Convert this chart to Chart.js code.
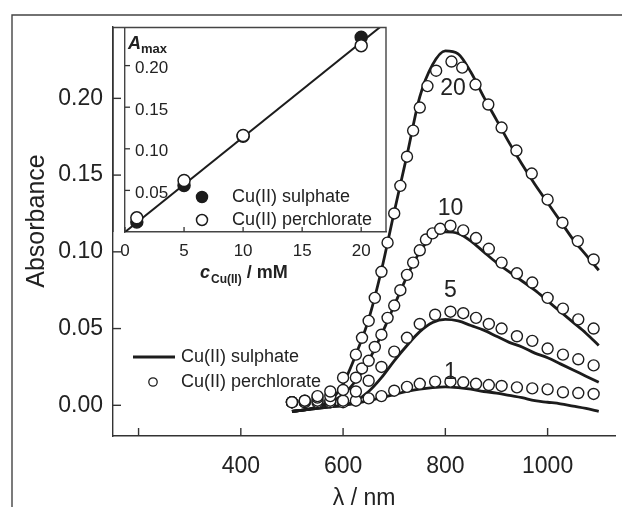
<!DOCTYPE html>
<html>
<head>
<meta charset="utf-8">
<script src="https://cdn.jsdelivr.net/npm/chart.js@4.4.1/dist/chart.umd.min.js"></script>
<style>
  html, body { margin: 0; padding: 0; background: #fff; }
  #wrap { position: relative; width: 622px; height: 507px; overflow: hidden; }
  #insetChart { position: absolute; left: 100px; top: 20px; }
  #mainChart { position: absolute; left: 0; top: 0; pointer-events: none; }
</style>
</head>
<body>
<div id="wrap">
  <canvas id="insetChart" width="300" height="280"></canvas>
  <canvas id="mainChart" width="622" height="507"></canvas>
</div>
<script>
const ink = "#1c1c1c";
const axisInk = "#333";
Chart.defaults.font.family = "'Liberation Sans', Arial, Helvetica, sans-serif";
Chart.defaults.color = "#222";

// Cu(II) sulphate spectra (solid lines), nm
const lambdaLine = [500, 525, 550, 575, 600, 625, 650, 675, 700, 725, 750, 775, 800,
                    825, 850, 875, 900, 925, 950, 975, 1000, 1025, 1050, 1075, 1100];
const sulphate1  = [-0.004, -0.003, -0.002, -0.001, 0.000, 0.0013, 0.003, 0.005, 0.007, 0.009, 0.0105, 0.0115, 0.012,
                    0.0115, 0.0105, 0.009, 0.008, 0.0065, 0.005, 0.003, 0.002, 0.001, -0.0005, -0.002, -0.004];
const sulphate5  = [-0.004, -0.003, -0.002, -0.001, 0.000, 0.003, 0.009, 0.018, 0.029, 0.039, 0.048, 0.054, 0.056,
                    0.055, 0.052, 0.049, 0.045, 0.041, 0.038, 0.034, 0.031, 0.027, 0.023, 0.019, 0.015];
const sulphate10 = [-0.004, -0.003, -0.001, 0.002, 0.007, 0.016, 0.029, 0.046, 0.065, 0.084, 0.100, 0.110, 0.113,
                    0.112, 0.107, 0.100, 0.093, 0.087, 0.081, 0.075, 0.068, 0.061, 0.054, 0.047, 0.039];
const sulphate20 = [-0.004, -0.003, -0.001, 0.003, 0.014, 0.033, 0.056, 0.088, 0.126, 0.163, 0.201, 0.222, 0.231,
                    0.229, 0.217, 0.201, 0.186, 0.171, 0.157, 0.144, 0.132, 0.120, 0.108, 0.098, 0.088];

// Cu(II) perchlorate spectra (open circles)
const lambdaP1 = [500, 525, 550, 575, 600, 625, 650, 675, 700, 725, 750, 780, 810, 835, 860, 885,
                  910, 940, 970, 1000, 1030, 1060, 1090];
const perchlorate1 = [0.002, 0.002, 0.002, 0.002, 0.002, 0.003, 0.0045, 0.006, 0.0095, 0.012, 0.014, 0.0154, 0.0154,
                      0.015, 0.014, 0.0132, 0.0126, 0.0117, 0.011, 0.0104, 0.0085, 0.008, 0.0074];
const lambdaP5 = [500, 525, 550, 575, 600, 625, 650, 675, 700, 725, 750, 780, 810, 835, 860, 885,
                  910, 940, 970, 1000, 1030, 1060, 1090];
const perchlorate5 = [0.002, 0.002, 0.003, 0.003, 0.003, 0.009, 0.016, 0.025, 0.035, 0.044, 0.053, 0.059, 0.061,
                      0.060, 0.057, 0.053, 0.050, 0.045, 0.042, 0.037, 0.033, 0.030, 0.026];
const lambdaP10 = [500, 525, 550, 575, 600, 625, 637, 650, 662, 675, 687, 700, 712, 725, 737, 750, 762, 775, 790,
                   810, 835, 860, 885, 910, 940, 970, 1000, 1030, 1060, 1090];
const perchlorate10 = [0.002, 0.003, 0.005, 0.006, 0.010, 0.018, 0.024, 0.029, 0.038, 0.046, 0.057, 0.065, 0.075,
                       0.085, 0.093, 0.101, 0.108, 0.112, 0.115, 0.117, 0.114, 0.109, 0.102, 0.093, 0.086, 0.080,
                       0.070, 0.063, 0.056, 0.050];
const lambdaP20 = [500, 525, 550, 575, 600, 625, 637, 650, 662, 675, 687, 700, 712, 725, 737, 750, 765, 782,
                   812, 833, 859, 884, 910, 939, 969, 1000, 1029, 1059, 1090];
const perchlorate20 = [0.002, 0.003, 0.006, 0.009, 0.018, 0.033, 0.044, 0.055, 0.070, 0.087, 0.106, 0.125, 0.143,
                       0.162, 0.179, 0.194, 0.208, 0.218, 0.224, 0.220, 0.209, 0.196, 0.181, 0.166, 0.151, 0.134,
                       0.119, 0.107, 0.095];

// concentration labels next to the curves (mM)
const curveNames = ["20", "10", "5", "1"];
const curveLabelX = [815, 810, 810, 810];
const curveLabelY = [0.206, 0.128, 0.075, 0.021];

const xTicks = [200, 400, 600, 800, 1000];
const yTicks = [0, 0.05, 0.10, 0.15, 0.20];

// inset: A_max vs concentration
const cInset = [1, 5, 10, 20];
const amaxSulphate = [0.012, 0.056, 0.115, 0.234];
const amaxPerchlorate = [0.017, 0.062, 0.116, 0.224];
const fitC = [0, 22.1];
const fitA = [0, 0.252];
const insetXTicks = [0, 5, 10, 15, 20];
const insetYTicks = [0.05, 0.10, 0.15, 0.20];

const pts = (xs, ys) => xs.map((x, i) => ({ x, y: ys[i] }));

function lineSet(label, ys) {
  return {
    type: "line", label, data: pts(lambdaLine, ys),
    borderColor: ink, borderWidth: 2.8, pointRadius: 0,
    cubicInterpolationMode: "monotone", fill: false, order: 2
  };
}
function circleSet(label, xs, ys) {
  return {
    label, data: pts(xs, ys), showLine: false,
    pointRadius: 5.5, pointBorderWidth: 1.4,
    pointBorderColor: ink, pointBackgroundColor: "#fff", order: 1
  };
}

// the scale's own padding guesses are not wanted: the plot box is fixed
function noPad(s) {
  s.paddingTop = 0; s.paddingBottom = 0; s.paddingLeft = 0; s.paddingRight = 0;
}

// ticks drawn inside the plot area
const inwardTicks = {
  id: "inwardTicks",
  afterDraw(chart, args, opts) {
    const { ctx, chartArea, scales } = chart;
    ctx.save();
    ctx.strokeStyle = axisInk;
    ctx.lineWidth = opts.width;
    scales.x.ticks.forEach(t => {
      const px = scales.x.getPixelForValue(t.value);
      ctx.beginPath();
      ctx.moveTo(px, chartArea.bottom);
      ctx.lineTo(px, chartArea.bottom - opts.len);
      ctx.stroke();
    });
    scales.y.ticks.forEach(t => {
      const py = scales.y.getPixelForValue(t.value);
      ctx.beginPath();
      ctx.moveTo(chartArea.left, py);
      ctx.lineTo(chartArea.left + opts.len, py);
      ctx.stroke();
    });
    ctx.restore();
  }
};

const mainDecor = {
  id: "mainDecor",
  afterDraw(chart) {
    const { ctx, scales } = chart;
    ctx.save();
    // outer frame
    ctx.strokeStyle = "#444";
    ctx.lineWidth = 1.4;
    ctx.beginPath();
    ctx.moveTo(12, 507);
    ctx.lineTo(12, 15);
    ctx.lineTo(622, 15);
    ctx.stroke();

    // y title
    ctx.fillStyle = "#222";
    ctx.font = "25px 'Liberation Sans', Arial, sans-serif";
    ctx.textAlign = "center";
    ctx.textBaseline = "middle";
    ctx.translate(37, 221);
    ctx.rotate(-Math.PI / 2);
    ctx.fillText("Absorbance", 0, 0);
    ctx.setTransform(1, 0, 0, 1, 0, 0);

    // concentration labels
    ctx.font = "23px 'Liberation Sans', Arial, sans-serif";
    curveNames.forEach((name, i) => {
      ctx.fillText(name, scales.x.getPixelForValue(curveLabelX[i]), scales.y.getPixelForValue(curveLabelY[i]));
    });

    // legend
    ctx.font = "18px 'Liberation Sans', Arial, sans-serif";
    ctx.textAlign = "left";
    ctx.strokeStyle = ink;
    ctx.lineWidth = 2.8;
    ctx.beginPath();
    ctx.moveTo(133, 357);
    ctx.lineTo(175, 357);
    ctx.stroke();
    ctx.fillText("Cu(II) sulphate", 181, 357);
    ctx.lineWidth = 1.3;
    ctx.fillStyle = "#fff";
    ctx.beginPath();
    ctx.arc(153, 382, 4.2, 0, Math.PI * 2);
    ctx.fill();
    ctx.stroke();
    ctx.fillStyle = "#222";
    ctx.fillText("Cu(II) perchlorate", 181, 382);
    ctx.restore();
  }
};

// inset, drawn first so the main axis ticks sit on top of it
const insetDecor = {
  id: "insetDecor",
  beforeDraw(chart) {
    const { ctx, chartArea } = chart;
    ctx.save();
    ctx.fillStyle = "#fff";
    ctx.fillRect(13, chartArea.top, chartArea.right - 13, chartArea.bottom - chartArea.top);
    ctx.restore();
  },
  afterDraw(chart) {
    const { ctx, chartArea } = chart;
    ctx.save();
    ctx.strokeStyle = "#444";
    ctx.lineWidth = 1.4;
    ctx.beginPath();
    ctx.moveTo(13, chartArea.bottom);
    ctx.lineTo(13, chartArea.top);
    ctx.lineTo(chartArea.right, chartArea.top);
    ctx.lineTo(chartArea.right, chartArea.bottom);
    ctx.stroke();

    ctx.fillStyle = "#222";
    ctx.textBaseline = "alphabetic";
    ctx.textAlign = "left";
    // A_max
    ctx.font = "italic bold 18px 'Liberation Sans', Arial, sans-serif";
    ctx.fillText("A", 28, 29);
    ctx.font = "bold 13px 'Liberation Sans', Arial, sans-serif";
    ctx.fillText("max", 41, 33);

    // x title: c_Cu(II) / mM
    let x = 100;
    const y = 258;
    ctx.font = "italic bold 18px 'Liberation Sans', Arial, sans-serif";
    ctx.fillText("c", x, y);
    x += ctx.measureText("c").width + 1;
    ctx.font = "bold 12px 'Liberation Sans', Arial, sans-serif";
    ctx.fillText("Cu(II)", x, y + 5);
    x += ctx.measureText("Cu(II)").width;
    ctx.font = "bold 18px 'Liberation Sans', Arial, sans-serif";
    ctx.fillText(" / mM", x, y);

    // legend
    ctx.font = "18px 'Liberation Sans', Arial, sans-serif";
    ctx.textBaseline = "middle";
    ctx.strokeStyle = ink;
    ctx.lineWidth = 1.5;
    ctx.fillStyle = ink;
    ctx.beginPath();
    ctx.arc(102, 177, 5.5, 0, Math.PI * 2);
    ctx.fill();
    ctx.stroke();
    ctx.fillStyle = "#fff";
    ctx.beginPath();
    ctx.arc(102, 200, 5.5, 0, Math.PI * 2);
    ctx.fill();
    ctx.stroke();
    ctx.fillStyle = "#222";
    ctx.fillText("Cu(II) sulphate", 132, 177);
    ctx.fillText("Cu(II) perchlorate", 132, 200);
    ctx.restore();
  }
};

new Chart(document.getElementById("insetChart"), {
  type: "scatter",
  data: {
    datasets: [
      {
        label: "Cu(II) perchlorate", data: pts(cInset, amaxPerchlorate),
        pointRadius: 6, pointBorderWidth: 1.5, pointBorderColor: ink, pointBackgroundColor: "#fff", order: 1
      },
      {
        label: "Cu(II) sulphate", data: pts(cInset, amaxSulphate),
        pointRadius: 6, pointBorderWidth: 1.5, pointBorderColor: ink, pointBackgroundColor: ink, order: 2
      },
      {
        type: "line", label: "fit", data: pts(fitC, fitA),
        borderColor: ink, borderWidth: 2, pointRadius: 0, fill: false, order: 3
      }
    ]
  },
  options: {
    responsive: false,
    animation: false,
    layout: { padding: { left: 13, right: 14, top: 7, bottom: 0 } },
    plugins: {
      legend: { display: false },
      tooltip: { enabled: false },
      inwardTicks: { len: 5, width: 1.3 }
    },
    scales: {
      x: {
        type: "linear", min: 0, max: 22.1,
        afterBuildTicks: s => { s.ticks = insetXTicks.map(v => ({ value: v })); },
        afterFit: s => { s.height = 68; noPad(s); },
        grid: { display: false, drawTicks: false },
        border: { display: true, color: "#444", width: 1.4 },
        ticks: { font: { size: 17 }, padding: 9, maxRotation: 0, autoSkip: false }
      },
      y: {
        min: 0, max: 0.2458,
        afterBuildTicks: s => { s.ticks = insetYTicks.map(v => ({ value: v })); },
        afterFit: s => { s.width = 12; noPad(s); },
        grid: { display: false, drawTicks: false },
        border: { display: true, color: "#444", width: 1.4 },
        ticks: { font: { size: 17 }, mirror: true, padding: 10, labelOffset: 3, callback: v => v.toFixed(2) }
      }
    }
  },
  plugins: [insetDecor, inwardTicks]
});

new Chart(document.getElementById("mainChart"), {
  type: "scatter",
  data: {
    datasets: [
      circleSet("Cu(II) perchlorate 20 mM", lambdaP20, perchlorate20),
      circleSet("Cu(II) perchlorate 10 mM", lambdaP10, perchlorate10),
      circleSet("Cu(II) perchlorate 5 mM", lambdaP5, perchlorate5),
      circleSet("Cu(II) perchlorate 1 mM", lambdaP1, perchlorate1),
      lineSet("Cu(II) sulphate 20 mM", sulphate20),
      lineSet("Cu(II) sulphate 10 mM", sulphate10),
      lineSet("Cu(II) sulphate 5 mM", sulphate5),
      lineSet("Cu(II) sulphate 1 mM", sulphate1)
    ]
  },
  options: {
    responsive: false,
    animation: false,
    layout: { padding: { left: 0, right: 0, top: 27, bottom: 0 } },
    plugins: {
      legend: { display: false },
      tooltip: { enabled: false },
      inwardTicks: { len: 8, width: 1.4 }
    },
    scales: {
      x: {
        type: "linear", min: 150, max: 1132,
        afterBuildTicks: s => { s.ticks = xTicks.map(v => ({ value: v })); },
        afterFit: s => { s.height = 71; noPad(s); },
        grid: { display: false, drawTicks: false },
        border: { display: true, color: axisInk, width: 1.4 },
        ticks: {
          font: { size: 23 }, padding: 17, maxRotation: 0, autoSkip: false,
          callback: v => (v === 200 ? "" : v)
        },
        title: {
          display: true, text: "λ / nm",
          font: { size: 23, lineHeight: 1 }, padding: { top: 0, bottom: -3 }
        }
      },
      y: {
        min: -0.02, max: 0.2465,
        afterBuildTicks: s => { s.ticks = yTicks.map(v => ({ value: v })); },
        afterFit: s => { s.width = 113; noPad(s); },
        grid: { display: false, drawTicks: false },
        border: { display: true, color: axisInk, width: 1.4 },
        ticks: { font: { size: 23 }, padding: 10, callback: v => v.toFixed(2) }
      }
    }
  },
  plugins: [inwardTicks, mainDecor]
});
</script>
</body>
</html>
